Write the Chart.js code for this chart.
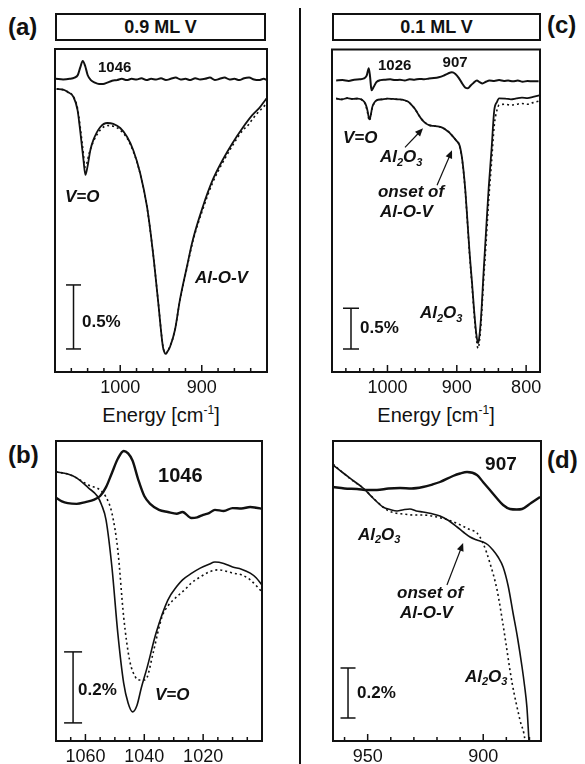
<!DOCTYPE html>
<html lang="en">
<head>
<meta charset="UTF-8">
<title>V/Al2O3 IRAS spectra</title>
<script src="https://cdn.jsdelivr.net/npm/chart.js@4.4.5/dist/chart.umd.min.js"></script>
<style>
  body { margin: 0; width: 585px; height: 764px; position: relative; overflow: hidden; background: #fff;
         font-family: 'Liberation Sans', Arial, sans-serif; color: #111; }
  canvas { position: absolute; }
  .tag { position: absolute; font-weight: bold; font-size: 24px; line-height: 24px; }
  .titlebox { position: absolute; box-sizing: border-box; border: 2px solid #111; height: 28px;
              font-weight: bold; font-size: 18px; line-height: 24px; text-align: center; }
  .xlabel { position: absolute; width: 240px; text-align: center; font-size: 20px; line-height: 22px; }
  .xlabel sup { font-size: 12px; vertical-align: 8px; line-height: 0; }
  .sep { position: absolute; left: 299px; top: 8px; width: 2px; height: 756px; background: #111; }
</style>
</head>
<body>
  <div class="tag" style="left:8px; top:15px">(a)</div>
  <div class="tag" style="left:547px; top:13px">(c)</div>
  <div class="tag" style="left:8px; top:443px">(b)</div>
  <div class="tag" style="left:547px; top:448px">(d)</div>

  <div class="titlebox" style="left:55px; top:13px; width:211px">0.9 ML V</div>
  <div class="titlebox" style="left:332px; top:13px; width:209px">0.1 ML V</div>

  <div class="xlabel" style="left:41px; top:404px">Energy [cm<sup>-1</sup>]</div>
  <div class="xlabel" style="left:316px; top:404px">Energy [cm<sup>-1</sup>]</div>

  <div class="sep"></div>

  <canvas id="chartA" width="240" height="380" style="left:40px; top:40px"></canvas>
  <canvas id="chartC" width="240" height="380" style="left:310px; top:40px"></canvas>
  <canvas id="chartB" width="240" height="354" style="left:40px; top:430px"></canvas>
  <canvas id="chartD" width="240" height="354" style="left:310px; top:430px"></canvas>

<script>
// ---- data (energy in cm-1, signal in % relative reflectance) ----

// (a) 0.9 ML V, wide range
const aTopE  = [1079, 1070, 1062, 1056, 1052, 1049, 1046, 1043, 1040, 1036, 1031, 1026, 1021, 1016, 1010, 1004, 998, 992, 986, 980, 974, 968, 962, 956, 950, 944, 938, 932, 926, 920, 914, 908, 902, 896, 890, 884, 878, 872, 866, 860, 854, 848, 842, 836, 830, 824, 820];
const aTopY  = [2.29, 2.285, 2.29, 2.30, 2.32, 2.38, 2.43, 2.39, 2.32, 2.28, 2.26, 2.25, 2.25, 2.26, 2.275, 2.28, 2.29, 2.28, 2.29, 2.285, 2.295, 2.28, 2.29, 2.285, 2.295, 2.28, 2.29, 2.30, 2.285, 2.29, 2.28, 2.295, 2.285, 2.29, 2.30, 2.28, 2.29, 2.30, 2.285, 2.29, 2.28, 2.295, 2.30, 2.285, 2.28, 2.29, 2.28];
const aSolidE = [1078, 1070, 1064.6, 1057.3, 1052.4, 1048.8, 1045.1, 1042.7, 1040.2, 1036.6, 1032.9, 1024.4, 1015.9, 1008.5, 1000, 991.5, 984.1, 975.6, 967.1, 959.8, 953.7, 947.6, 945.5, 943.9, 942, 939, 932.9, 926.8, 918.3, 911, 898.8, 886.6, 874.4, 862.2, 850, 837.8, 829.3, 822, 820];
const aSolidY = [2.211, 2.205, 2.188, 2.148, 2.047, 1.867, 1.656, 1.539, 1.602, 1.734, 1.813, 1.914, 1.945, 1.938, 1.906, 1.836, 1.734, 1.555, 1.289, 0.930, 0.563, 0.195, 0.15, 0.141, 0.16, 0.195, 0.328, 0.563, 0.820, 1.031, 1.289, 1.500, 1.656, 1.789, 1.906, 2.008, 2.063, 2.125, 2.14];
const aDashE = [1078, 1070, 1064.6, 1057.3, 1052.4, 1048.8, 1045.1, 1043.5, 1041.5, 1038, 1033, 1024.4, 1015.9, 1008.5, 1000, 991.5, 984.1, 975.6, 967.1, 959.8, 953.7, 947.6, 945.5, 943.9, 942, 939, 932.9, 926.8, 918.3, 911, 898.8, 886.6, 874.4, 862.2, 850, 843, 837.8, 832, 826, 820];
const aDashY = [2.211, 2.205, 2.19, 2.15, 2.06, 1.90, 1.70, 1.60, 1.62, 1.71, 1.80, 1.89, 1.925, 1.92, 1.89, 1.825, 1.725, 1.55, 1.285, 0.93, 0.565, 0.20, 0.155, 0.145, 0.165, 0.20, 0.33, 0.56, 0.81, 1.02, 1.27, 1.48, 1.635, 1.77, 1.885, 1.93, 1.975, 2.02, 2.06, 2.10];

// (c) 0.1 ML V, wide range
const cTopE = [1074, 1065, 1056, 1048, 1040, 1034, 1030, 1027, 1025, 1023, 1020, 1016, 1010, 1003, 996, 989, 982, 975, 968, 961, 954, 947, 940, 933, 926, 919, 913, 907, 902, 897, 892, 888, 884, 880, 876, 871, 867, 863, 858, 853, 846, 839, 832, 826, 819, 812, 805, 798, 790, 782];
const cTopY = [3.56, 3.565, 3.555, 3.57, 3.575, 3.585, 3.62, 3.71, 3.60, 3.44, 3.48, 3.54, 3.565, 3.57, 3.575, 3.565, 3.57, 3.56, 3.575, 3.57, 3.58, 3.575, 3.585, 3.59, 3.60, 3.62, 3.645, 3.66, 3.64, 3.59, 3.52, 3.475, 3.465, 3.50, 3.53, 3.56, 3.54, 3.525, 3.545, 3.56, 3.555, 3.565, 3.555, 3.56, 3.55, 3.56, 3.545, 3.555, 3.55, 3.55];
const cSolidE = [1074, 1066, 1058, 1050, 1043, 1036, 1032, 1029, 1027, 1026, 1024.5, 1022, 1019, 1016, 1008, 1000, 992, 984, 976, 970, 965, 960, 955, 950, 945, 940, 934, 928, 921, 916, 911, 906, 901, 896, 892, 888, 885, 881.5, 878, 875, 872, 869.5, 868, 865, 861.5, 858, 854, 850, 846, 842, 839, 830, 822, 814, 806, 798, 790, 781];
const cSolidY = [3.341, 3.33, 3.345, 3.335, 3.34, 3.32, 3.28, 3.20, 3.11, 3.085, 3.12, 3.232, 3.29, 3.317, 3.33, 3.34, 3.335, 3.33, 3.32, 3.30, 3.26, 3.21, 3.14, 3.08, 3.04, 3.015, 3.005, 3.00, 2.985, 2.96, 2.927, 2.88, 2.829, 2.768, 2.585, 2.25, 1.89, 1.45, 1.085, 0.75, 0.476, 0.354, 0.40, 0.671, 1.20, 1.695, 2.25, 2.707, 3.195, 3.30, 3.341, 3.34, 3.33, 3.341, 3.35, 3.345, 3.36, 3.378];
const cDashE = [1074, 1066, 1058, 1050, 1043, 1036, 1032, 1029, 1027, 1026, 1024.5, 1022, 1019, 1016, 1008, 1000, 992, 984, 976, 970, 965, 960, 955, 950, 945, 940, 934, 928, 921, 916, 911, 906, 901, 896, 892, 888, 885, 881.5, 878, 875, 872, 869.5, 868, 865, 861.5, 858, 854, 850, 846, 842, 839, 830, 822, 814, 806, 798, 790, 781];
const cDashY = [3.341, 3.33, 3.345, 3.335, 3.34, 3.32, 3.27, 3.18, 3.09, 3.07, 3.11, 3.22, 3.29, 3.317, 3.33, 3.34, 3.335, 3.33, 3.32, 3.30, 3.26, 3.21, 3.14, 3.08, 3.04, 3.015, 3.005, 3.00, 2.985, 2.96, 2.927, 2.88, 2.829, 2.76, 2.57, 2.23, 1.87, 1.42, 1.05, 0.71, 0.43, 0.29, 0.33, 0.60, 1.10, 1.55, 2.10, 2.55, 3.01, 3.20, 3.26, 3.27, 3.26, 3.27, 3.28, 3.27, 3.29, 3.31];

// (b) 0.9 ML V, V=O region
const bTopE = [1070, 1068, 1066, 1063, 1060, 1057, 1055, 1053, 1051, 1049, 1047, 1045.5, 1044, 1042, 1040, 1038, 1035, 1032, 1029, 1027, 1024, 1022, 1020, 1018, 1016, 1013, 1010, 1007, 1004, 1002, 1000];
const bTopY = [0.685, 0.675, 0.670, 0.668, 0.673, 0.680, 0.690, 0.715, 0.755, 0.795, 0.817, 0.810, 0.790, 0.735, 0.690, 0.668, 0.651, 0.645, 0.640, 0.645, 0.628, 0.630, 0.637, 0.642, 0.651, 0.648, 0.656, 0.655, 0.659, 0.657, 0.654];
const bSolidE = [1070, 1066, 1063, 1059, 1056, 1054.5, 1053, 1051, 1049, 1047, 1045.5, 1044, 1042.5, 1041, 1039, 1036, 1032, 1029, 1027, 1024, 1021, 1018, 1016, 1013, 1010, 1007, 1004, 1002, 1000];
const bSolidY = [0.758, 0.752, 0.741, 0.713, 0.690, 0.665, 0.623, 0.490, 0.304, 0.163, 0.107, 0.082, 0.100, 0.150, 0.208, 0.304, 0.397, 0.435, 0.454, 0.472, 0.487, 0.498, 0.504, 0.500, 0.490, 0.484, 0.473, 0.460, 0.439];
const bDashE = [1070, 1066, 1063, 1059, 1055, 1053, 1051, 1049, 1047, 1045, 1043, 1042, 1040, 1039, 1037, 1034, 1032, 1029, 1026, 1024, 1021, 1018, 1015, 1013, 1010, 1007, 1004, 1000];
const bDashY = [0.758, 0.752, 0.741, 0.721, 0.707, 0.687, 0.642, 0.538, 0.349, 0.228, 0.180, 0.172, 0.172, 0.180, 0.248, 0.349, 0.380, 0.406, 0.428, 0.445, 0.462, 0.476, 0.482, 0.480, 0.473, 0.468, 0.454, 0.420];

// (d) 0.1 ML V, onset region
const dTopE = [965, 960, 954.6, 950, 946, 941, 936, 931, 926.1, 922, 918.7, 913.1, 910, 907, 902.7, 900, 897.1, 894, 891.4, 888.4, 885.5, 883.2, 879.3, 875.4];
const dTopY = [1.016, 1.010, 1.008, 1.004, 1.004, 1.010, 1.012, 1.010, 1.016, 1.026, 1.036, 1.060, 1.070, 1.076, 1.064, 1.035, 1.004, 0.970, 0.944, 0.928, 0.926, 0.928, 0.952, 0.976];
const dSolidE = [965, 961, 956, 952, 947.5, 943.4, 940, 937.3, 934.5, 931.7, 929, 926.1, 922.5, 918.7, 915, 911.3, 908.5, 905.7, 903, 900.1, 898, 895.8, 893.5, 891.4, 889.2, 887.1, 885.1, 883.2, 882.1, 881.1, 880.2, 879.5];
const dSolidY = [1.104, 1.075, 1.040, 1.012, 0.970, 0.936, 0.925, 0.920, 0.925, 0.928, 0.920, 0.916, 0.910, 0.900, 0.882, 0.856, 0.835, 0.816, 0.805, 0.796, 0.785, 0.764, 0.735, 0.696, 0.620, 0.512, 0.410, 0.296, 0.220, 0.136, 0.0, -0.1];
const dDashE = [965, 961, 956, 952, 946.5, 941.6, 938, 934.7, 930, 926.1, 920, 915.5, 911.3, 908.5, 905.7, 902.7, 900.1, 897.1, 894, 891.4, 887.5, 884.1, 881.9, 881];
const dDashY = [1.108, 1.075, 1.038, 1.012, 0.962, 0.924, 0.912, 0.908, 0.904, 0.904, 0.896, 0.885, 0.870, 0.858, 0.845, 0.832, 0.792, 0.712, 0.604, 0.464, 0.232, 0.084, 0.0, -0.1];

// scale bars: [position, lower end, upper end]
const aBar = [1057.3, 0.18, 0.68];   // 0.5 %
const cBar = [1052.6, 0.28, 0.78];   // 0.5 %
const bBar = [1064.2, 0.051, 0.251]; // 0.2 %
const dBar = [958.5, 0.092, 0.292];  // 0.2 %

// tick marks and labelled ticks
const aTicks = [1060, 1040, 1020, 1000, 980, 960, 940, 920, 900, 880, 860, 840];
const aTickLabels = [1000, 900];
const cTicks = [1060, 1040, 1020, 1000, 980, 960, 940, 920, 900, 880, 860, 840, 820, 800];
const cTickLabels = [1000, 900, 800];
const bTicks = [1065, 1060, 1055, 1050, 1045, 1040, 1035, 1030, 1025, 1020, 1015, 1010, 1005];
const bTickLabels = [1060, 1040, 1020];
const dTicks = [960, 950, 940, 930, 920, 910, 900, 890, 880];
const dTickLabels = [950, 900];

// ---- drawing ----
const FONT = "'Liberation Sans', Arial, sans-serif";
Chart.defaults.font.family = FONT;
Chart.defaults.color = '#111';

function pts(es, vs) { return es.map((e, i) => ({ x: e, y: vs[i] })); }

// '_' marks next character as subscript
function drawRich(ctx, text, x, y, size, italic) {
  const st = (italic ? 'italic ' : '') + 'bold ';
  let cx = x;
  for (let i = 0; i < text.length; i++) {
    if (text[i] === '_') {
      i++;
      ctx.font = st + Math.round(size * 0.62) + 'px ' + FONT;
      ctx.fillText(text[i], cx, y + size * 0.32);
    } else {
      ctx.font = st + size + 'px ' + FONT;
      ctx.fillText(text[i], cx, y);
    }
    cx += ctx.measureText(text[i]).width;
  }
}

const deco = {
  id: 'deco',
  afterDraw(chart, args, opts) {
    const { ctx, chartArea: a, scales: { x, y } } = chart;
    ctx.save();
    ctx.strokeStyle = '#111';
    ctx.fillStyle = '#111';
    // inward ticks
    ctx.lineWidth = 1.5;
    x.ticks.forEach(t => {
      const px = x.getPixelForValue(t.value);
      const len = opts.major.includes(t.value) ? 7 : 4;
      ctx.beginPath();
      ctx.moveTo(px, a.bottom);
      ctx.lineTo(px, a.bottom - len);
      ctx.stroke();
    });
    // frame
    ctx.lineWidth = 2;
    ctx.strokeRect(a.left, a.top, a.right - a.left, a.bottom - a.top);
    // arrows
    ctx.lineWidth = 1.2;
    (opts.arrows || []).forEach(ar => {
      const x1 = x.getPixelForValue(ar[0]), y1 = y.getPixelForValue(ar[1]);
      const x2 = x.getPixelForValue(ar[2]), y2 = y.getPixelForValue(ar[3]);
      const ang = Math.atan2(y2 - y1, x2 - x1);
      ctx.beginPath();
      ctx.moveTo(x1, y1);
      ctx.lineTo(x2 - 5 * Math.cos(ang), y2 - 5 * Math.sin(ang));
      ctx.stroke();
      ctx.beginPath();
      ctx.moveTo(x2, y2);
      ctx.lineTo(x2 - 8 * Math.cos(ang) + 3.5 * Math.sin(ang), y2 - 8 * Math.sin(ang) - 3.5 * Math.cos(ang));
      ctx.lineTo(x2 - 8 * Math.cos(ang) - 3.5 * Math.sin(ang), y2 - 8 * Math.sin(ang) + 3.5 * Math.cos(ang));
      ctx.closePath();
      ctx.fill();
    });
    // text notes
    ctx.textBaseline = 'middle';
    ctx.textAlign = 'left';
    (opts.notes || []).forEach(n => {
      drawRich(ctx, n.t, x.getPixelForValue(n.e), y.getPixelForValue(n.v), n.size, n.it);
    });
    ctx.restore();
  }
};

function makePanel(id, p) {
  const line = (es, vs, w, dash) => ({
    data: pts(es, vs), borderColor: '#111', borderWidth: w, borderDash: dash ? [2, 3] : [],
    pointRadius: 0, cubicInterpolationMode: 'monotone', fill: false
  });
  const bar = p.bar;
  new Chart(document.getElementById(id), {
    type: 'line',
    data: {
      datasets: [
        line(p.top[0], p.top[1], p.topW, false),
        line(p.dash[0], p.dash[1], 1.6, true),
        line(p.solid[0], p.solid[1], p.solidW, false),
        {
          data: [{ x: bar[0], y: bar[1] }, { x: bar[0], y: bar[2] }],
          borderColor: '#111', borderWidth: 1.5, tension: 0,
          pointStyle: 'line', pointRadius: p.cap, pointBorderWidth: 1.5, pointBorderColor: '#111'
        }
      ]
    },
    options: {
      responsive: false,
      animation: false,
      events: [],
      layout: { padding: p.pad },
      plugins: {
        legend: { display: false },
        tooltip: { enabled: false },
        deco: { major: p.labels, notes: p.notes, arrows: p.arrows }
      },
      scales: {
        x: {
          type: 'linear', reverse: true, min: p.xMin, max: p.xMax,
          grid: { display: false, drawTicks: false },
          border: { display: false },
          afterBuildTicks: (s) => { s.ticks = p.ticks.map(v => ({ value: v })); },
          afterFit: (s) => { s.height = p.axisH; },
          ticks: {
            autoSkip: false, maxRotation: 0, padding: 5,
            font: { size: 18 }, color: '#111',
            callback: (v) => p.labels.includes(v) ? String(v) : ''
          }
        },
        y: { type: 'linear', display: false, min: 0, max: p.yMax }
      }
    },
    plugins: [deco]
  });
}

makePanel('chartA', {
  xMin: 820, xMax: 1080, yMax: 2.523, ticks: aTicks, labels: aTickLabels,
  top: [aTopE, aTopY], solid: [aSolidE, aSolidY], dash: [aDashE, aDashY],
  topW: 2, solidW: 1.8, bar: aBar, cap: 7.5,
  pad: { left: 15, top: 9, right: 13, bottom: 0 }, axisH: 48,
  notes: [
    { t: '1046', e: 1027.3, v: 2.375, size: 15 },
    { t: 'V=O', e: 1067.7, v: 1.367, size: 17, it: true },
    { t: 'Al-O-V', e: 908.3, v: 0.734, size: 17, it: true },
    { t: '0.5%', e: 1046.9, v: 0.391, size: 17 }
  ],
  arrows: []
});

makePanel('chartC', {
  xMin: 780, xMax: 1080, yMax: 3.939, ticks: cTicks, labels: cTickLabels,
  top: [cTopE, cTopY], solid: [cSolidE, cSolidY], dash: [cDashE, cDashY],
  topW: 2, solidW: 1.8, bar: cBar, cap: 8,
  pad: { left: 22, top: 9, right: 10, bottom: 0 }, axisH: 48,
  notes: [
    { t: '1026', e: 1013.7, v: 3.744, size: 15 },
    { t: '907', e: 920.5, v: 3.78, size: 15 },
    { t: 'V=O', e: 1064.1, v: 2.854, size: 17, it: true },
    { t: 'Al_2O_3', e: 1010.8, v: 2.622, size: 17, it: true },
    { t: 'onset of', e: 1013.7, v: 2.195, size: 17, it: true },
    { t: 'Al-O-V', e: 1010.8, v: 1.951, size: 17, it: true },
    { t: 'Al_2O_3', e: 953.1, v: 0.720, size: 17, it: true },
    { t: '0.5%', e: 1039.6, v: 0.537, size: 17 }
  ],
  arrows: [[974.7, 2.744, 948.7, 2.976], [928.5, 2.280, 906.9, 2.707]]
});

makePanel('chartB', {
  xMin: 1000, xMax: 1070, yMax: 0.845, ticks: bTicks, labels: bTickLabels,
  top: [bTopE, bTopY], solid: [bSolidE, bSolidY], dash: [bDashE, bDashY],
  topW: 2.4, solidW: 1.6, bar: bBar, cap: 9,
  pad: { left: 16, top: 11, right: 18, bottom: 0 }, axisH: 43,
  notes: [
    { t: '1046', e: 1035.3, v: 0.744, size: 20 },
    { t: 'V=O', e: 1036.4, v: 0.130, size: 17, it: true },
    { t: '0.2%', e: 1062.5, v: 0.144, size: 17 }
  ],
  arrows: []
});

makePanel('chartD', {
  xMin: 875, xMax: 965, yMax: 1.2, ticks: dTicks, labels: dTickLabels,
  top: [dTopE, dTopY], solid: [dSolidE, dSolidY], dash: [dDashE, dDashY],
  topW: 2.4, solidW: 1.6, bar: dBar, cap: 7.5,
  pad: { left: 23, top: 11, right: 9, bottom: 0 }, axisH: 43,
  notes: [
    { t: '907', e: 899.2, v: 1.104, size: 19 },
    { t: 'Al_2O_3', e: 954.2, v: 0.824, size: 17, it: true },
    { t: 'onset of', e: 937.3, v: 0.592, size: 17, it: true },
    { t: 'Al-O-V', e: 936.0, v: 0.512, size: 17, it: true },
    { t: 'Al_2O_3', e: 907.9, v: 0.256, size: 17, it: true },
    { t: '0.2%', e: 954.6, v: 0.192, size: 17 }
  ],
  arrows: [[915.7, 0.624, 908.7, 0.792]]
});
</script>
</body>
</html>
